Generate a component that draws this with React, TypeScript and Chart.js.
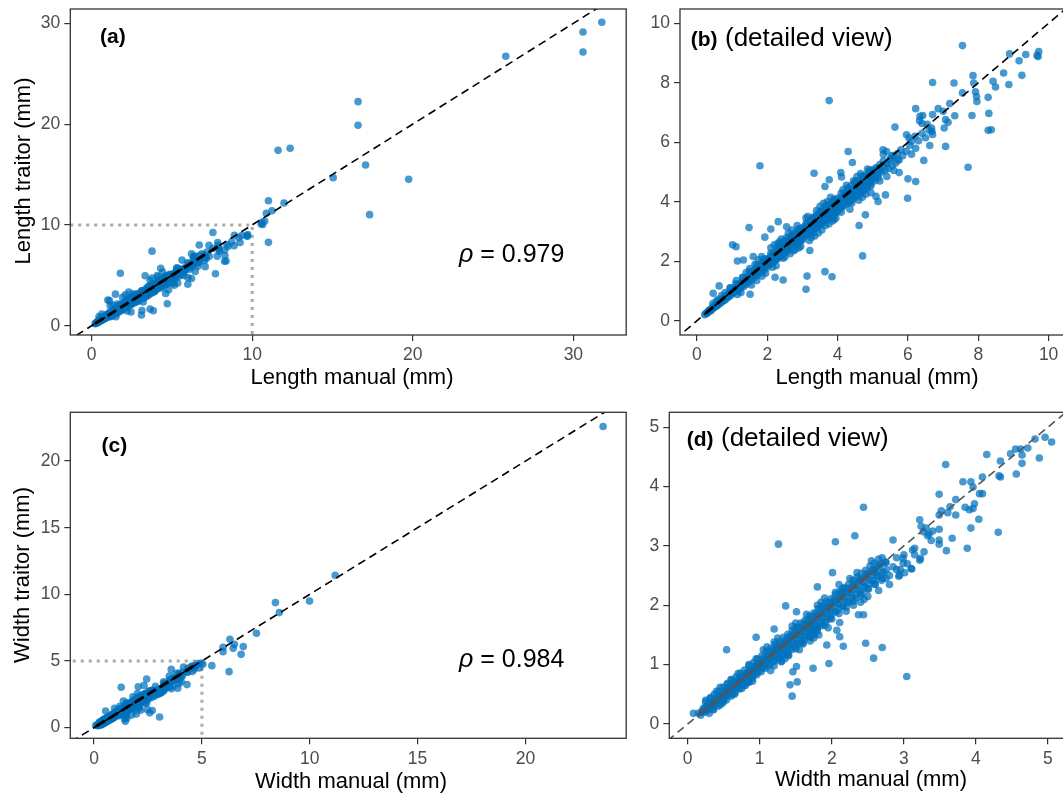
import React, { useEffect, useRef } from "react";
import { Chart, registerables } from "chart.js";

Chart.register(...registerables);

type Pt = [number, number];

// ---------- Length data (manual, traitor) in mm ----------
const lengthCore: Pt[] = [
  [0.3, 0.27], [0.35, 0.36], [0.4, 0.35], [0.45, 0.46], [0.5, 0.47], [0.55, 0.53], [0.6, 0.58], [0.65, 0.66],
  [0.7, 0.66], [0.75, 0.76], [0.8, 0.76], [0.85, 0.84], [0.9, 0.87], [0.95, 0.96], [1.0, 0.95], [1.05, 1.06],
  [1.1, 1.04], [1.15, 1.13], [1.2, 1.18], [1.25, 1.27], [1.3, 1.24], [1.35, 1.36], [1.4, 1.34], [1.45, 1.43],
  [1.5, 1.47], [1.55, 1.57], [1.6, 1.53], [1.65, 1.66], [1.7, 1.64], [1.75, 1.72], [1.8, 1.77], [1.85, 1.88],
  [1.9, 1.83], [1.95, 1.96], [2.0, 1.94], [2.05, 2.03], [2.1, 2.06], [2.15, 2.17], [2.2, 2.12], [2.25, 2.26],
  [2.3, 2.22], [2.35, 2.33], [2.4, 2.36], [2.45, 2.47], [2.5, 2.41], [2.55, 2.56], [2.6, 2.52], [2.65, 2.62],
  [2.7, 2.65], [2.75, 2.77], [2.8, 2.71], [2.85, 2.86], [2.9, 2.8], [2.95, 2.92], [3.0, 2.95], [3.05, 3.07],
  [3.1, 2.99], [3.15, 3.15], [3.2, 3.1], [3.25, 3.22], [3.3, 3.24], [3.35, 3.37], [3.4, 3.29], [3.45, 3.45],
  [3.5, 3.4], [3.55, 3.52], [3.6, 3.53], [3.65, 3.66], [3.7, 3.58], [3.75, 3.74], [3.8, 3.69], [3.85, 3.82],
  [3.9, 3.83], [3.95, 3.96], [4.0, 3.88], [4.05, 4.03], [4.1, 3.98], [4.15, 4.12], [4.2, 4.12], [4.25, 4.26],
  [4.3, 4.17], [4.35, 4.32], [4.4, 4.28], [4.45, 4.43], [4.5, 4.41], [4.55, 4.56], [4.6, 4.46], [4.65, 4.62],
  [4.7, 4.58], [4.75, 4.73], [4.8, 4.7], [4.85, 4.86], [4.9, 4.76], [4.95, 4.92], [5.0, 4.88], [5.05, 5.03],
  [5.1, 4.96], [5.15, 5.13], [5.2, 5.06], [5.3, 5.22], [5.4, 5.28], [5.5, 5.42],
  [2.05, 1.88], [2.15, 1.97], [2.25, 2.06], [2.35, 2.16], [2.45, 2.25], [2.55, 2.33], [2.65, 2.44], [2.75, 2.52],
  [2.85, 2.62], [2.95, 2.7], [3.05, 2.82], [3.15, 2.9], [3.25, 3.0], [3.35, 3.08], [3.45, 3.18], [3.55, 3.27],
  [3.65, 3.36], [3.75, 3.45], [3.85, 3.56], [3.95, 3.64], [4.05, 3.74], [4.15, 3.83], [4.25, 3.95], [4.35, 4.02],
  [4.45, 4.14], [4.55, 4.22], [4.65, 4.34], [4.75, 4.42], [4.85, 4.52], [4.95, 4.6], [5.05, 4.7], [5.15, 4.8],
  [1.1, 1.24], [1.3, 1.46], [1.5, 1.66], [1.7, 1.87], [1.9, 2.07], [2.1, 2.27], [2.3, 2.48], [2.5, 2.68],
  [2.7, 2.86], [2.9, 3.08], [3.1, 3.27], [3.3, 3.48], [3.5, 3.66], [3.7, 3.88], [3.9, 4.07], [4.1, 4.28],
  [4.3, 4.47], [4.5, 4.68], [4.7, 4.87], [4.9, 5.06],
];

const lengthClusterLow: Pt[] = [
  [0.22, 0.2], [0.25, 0.24], [0.28, 0.25], [0.3, 0.29], [0.33, 0.3], [0.35, 0.34], [0.38, 0.33], [0.4, 0.38],
  [0.42, 0.41], [0.45, 0.4], [0.47, 0.46], [0.5, 0.45], [0.52, 0.5], [0.55, 0.49], [0.57, 0.56], [0.6, 0.53],
  [0.62, 0.61], [0.65, 0.58], [0.67, 0.66], [0.7, 0.62], [0.72, 0.7], [0.75, 0.67], [0.77, 0.78], [0.8, 0.7],
  [0.82, 0.8], [0.85, 0.76], [0.87, 0.88], [0.9, 0.8], [0.92, 0.93], [0.95, 0.85], [0.97, 0.99], [1.0, 0.9],
  [0.45, 0.58], [0.6, 0.72], [0.7, 0.85], [0.8, 0.95], [0.95, 1.1], [0.55, 0.66],
  [1.02, 1.0], [1.05, 0.95], [1.08, 1.1], [1.1, 0.98], [1.12, 1.05], [1.15, 1.2], [1.18, 1.02], [1.2, 1.12],
  [1.22, 1.25], [1.25, 1.1], [1.28, 1.18], [1.3, 1.32], [1.33, 1.15], [1.35, 1.25], [1.38, 1.4], [1.4, 1.22],
  [1.43, 1.33], [1.45, 1.5], [1.48, 1.3], [1.5, 1.42], [1.52, 1.58], [1.55, 1.38], [1.58, 1.5], [1.6, 1.65],
  [1.62, 1.45], [1.65, 1.57], [1.68, 1.75], [1.7, 1.52], [1.72, 1.64], [1.75, 1.82], [1.78, 1.6], [1.8, 1.7],
  [1.82, 1.92], [1.85, 1.66], [1.88, 1.78], [1.9, 2.0], [1.92, 1.72], [1.95, 1.86], [1.98, 2.08], [2.0, 1.8],
  [1.12, 1.35], [1.25, 0.95], [1.4, 1.62], [1.55, 1.2], [1.65, 1.9], [1.85, 1.5], [1.3, 1.45], [1.75, 2.05],
  [1.95, 1.6], [1.15, 0.88], [1.5, 1.75], [1.7, 1.35],
];

const lengthClusterMid: Pt[] = [
  [2.02, 2.05], [2.05, 1.9], [2.08, 2.15], [2.1, 1.95], [2.12, 2.02], [2.15, 2.25], [2.18, 2.0], [2.2, 2.1],
  [2.22, 2.32], [2.25, 2.05], [2.28, 2.18], [2.3, 2.4], [2.33, 2.12], [2.35, 2.27], [2.38, 2.5], [2.4, 2.2],
  [2.43, 2.35], [2.45, 2.58], [2.48, 2.28], [2.5, 2.42], [2.52, 2.66], [2.55, 2.35], [2.58, 2.5], [2.6, 2.74],
  [2.62, 2.42], [2.65, 2.57], [2.68, 2.82], [2.7, 2.48], [2.72, 2.64], [2.75, 2.9], [2.78, 2.55], [2.8, 2.7],
  [2.82, 2.97], [2.85, 2.6], [2.88, 2.78], [2.9, 3.04], [2.92, 2.65], [2.95, 2.85], [2.98, 3.12], [3.0, 2.72],
  [2.1, 2.45], [2.25, 1.85], [2.35, 2.65], [2.5, 2.15], [2.6, 2.95], [2.75, 2.35], [2.85, 3.2], [2.95, 2.5],
  [2.2, 2.55], [2.45, 2.1], [2.65, 2.25], [2.4, 2.75], [2.7, 3.05], [2.55, 2.8], [2.9, 2.45], [2.15, 1.8],
  [2.3, 2.6], [2.8, 2.4],
  [3.02, 3.0], [3.05, 2.85], [3.08, 3.18], [3.1, 2.9], [3.12, 3.05], [3.15, 3.28], [3.18, 2.95], [3.2, 3.12],
  [3.22, 3.36], [3.25, 3.02], [3.28, 3.2], [3.3, 3.45], [3.33, 3.08], [3.35, 3.25], [3.38, 3.52], [3.4, 3.15],
  [3.43, 3.32], [3.45, 3.6], [3.48, 3.22], [3.5, 3.4], [3.52, 3.68], [3.55, 3.28], [3.58, 3.46], [3.6, 3.75],
  [3.62, 3.35], [3.65, 3.55], [3.68, 3.82], [3.7, 3.42], [3.72, 3.62], [3.75, 3.9], [3.78, 3.48], [3.8, 3.68],
  [3.82, 3.96], [3.85, 3.55], [3.88, 3.75], [3.9, 4.05], [3.92, 3.6], [3.95, 3.82], [3.98, 4.12], [4.0, 3.68],
  [3.1, 3.45], [3.25, 2.8], [3.4, 3.7], [3.55, 3.05], [3.7, 4.0], [3.85, 3.35], [3.2, 2.7], [3.5, 3.85],
  [3.65, 3.2], [3.95, 3.45], [3.3, 2.95], [3.75, 3.25], [3.45, 2.95], [3.6, 3.95], [3.9, 3.4], [3.15, 3.5],
  [3.8, 4.15], [3.35, 2.85],
];

const lengthClusterHigh: Pt[] = [
  [4.02, 4.0], [4.06, 3.8], [4.1, 4.15], [4.13, 3.85], [4.16, 4.02], [4.2, 4.3], [4.24, 3.92], [4.27, 4.1],
  [4.3, 4.42], [4.34, 4.0], [4.37, 4.2], [4.4, 4.55], [4.44, 4.08], [4.47, 4.3], [4.5, 4.62], [4.54, 4.18],
  [4.57, 4.4], [4.6, 4.72], [4.64, 4.25], [4.67, 4.48], [4.7, 4.82], [4.74, 4.35], [4.77, 4.58], [4.8, 4.9],
  [4.84, 4.45], [4.87, 4.68], [4.9, 5.0], [4.94, 4.52], [4.97, 4.75], [5.0, 5.08],
  [4.1, 3.65], [4.25, 4.55], [4.4, 3.95], [4.55, 4.85], [4.7, 4.15], [4.85, 5.1], [4.95, 4.3], [4.15, 4.4],
  [4.45, 4.7], [4.6, 4.05], [4.8, 4.25], [4.35, 3.75], [4.65, 4.95], [4.9, 4.65],
  [5.05, 4.8], [5.1, 5.15], [5.15, 4.9], [5.2, 5.25], [5.25, 5.0], [5.3, 5.38], [5.35, 5.05], [5.4, 5.3],
  [5.45, 5.12], [5.5, 5.45], [5.55, 5.2], [5.6, 5.55], [5.65, 5.3], [5.7, 5.62], [5.75, 5.4], [5.85, 5.55],
  [5.95, 5.7], [5.2, 4.7], [5.4, 4.85], [5.3, 5.6], [5.6, 5.05], [5.8, 5.75], [6.05, 5.9], [6.1, 5.6],
  [6.2, 6.2], [6.3, 6.05], [6.4, 6.3], [6.5, 6.15], [6.55, 6.6], [6.6, 6.4],
];

const lengthOutliers: Pt[] = [
  [7.55, 9.25], [3.76, 7.4], [1.79, 5.21], [7.71, 5.16], [8.89, 8.97], [9.16, 8.74], [9.35, 8.95], [9.67, 8.92],
  [9.72, 9.05], [9.7, 8.88], [9.24, 8.25], [8.87, 7.94], [8.72, 8.33], [8.42, 8.05], [8.49, 7.86], [8.28, 7.51],
  [8.3, 6.97], [8.28, 6.4], [8.37, 6.42], [7.85, 8.24], [7.87, 7.99], [7.92, 7.7], [7.95, 7.54], [7.96, 7.37],
  [7.82, 6.9], [7.55, 7.66], [7.31, 7.99], [6.7, 8.01], [7.19, 7.3], [7.33, 6.89], [7.07, 6.76], [7.14, 6.67],
  [6.86, 7.13], [7.0, 7.04], [7.03, 6.48], [7.07, 5.86], [6.7, 6.93], [6.67, 6.48], [6.68, 6.37], [6.7, 6.26],
  [6.62, 5.89], [6.45, 5.39], [6.22, 7.13], [6.34, 6.87], [6.42, 6.9], [6.33, 6.72], [6.4, 6.63], [6.22, 5.8],
  [6.22, 4.68], [6.0, 4.77], [5.99, 4.12], [5.96, 6.25], [6.03, 6.14], [6.1, 6.03], [5.63, 6.51], [5.75, 4.98],
  [5.7, 5.4], [5.55, 5.55], [5.29, 5.75], [5.39, 5.69], [5.36, 4.23], [5.09, 4.18], [5.15, 4.01], [4.79, 3.56],
  [4.61, 3.2], [4.71, 2.18], [4.3, 5.69], [4.42, 5.32], [4.09, 4.98], [4.11, 4.83], [3.76, 4.74], [3.64, 4.51],
  [3.33, 4.96], [3.49, 3.56], [3.64, 1.65], [3.84, 1.48], [3.13, 1.5], [3.1, 1.06], [3.21, 2.36], [2.45, 1.37],
  [2.22, 1.46], [2.31, 3.33], [2.1, 3.08], [2.55, 3.16], [1.93, 2.81], [1.48, 3.13], [1.11, 2.49], [1.15, 2.01],
  [1.32, 2.04], [1.01, 2.55], [1.51, 0.89], [0.46, 0.92], [0.63, 1.17], [0.94, 1.11], [1.6, 2.16], [1.84, 2.16],
];

const lengthLarge: Pt[] = [
  [31.77, 30.1], [30.6, 29.14], [30.6, 27.16], [25.79, 26.73], [16.59, 22.23], [16.59, 19.88], [11.61, 17.4],
  [12.36, 17.6], [17.06, 15.94], [15.04, 14.69], [19.74, 14.52], [17.31, 11.02], [11.01, 12.4], [11.98, 12.17],
  [11.23, 11.41], [10.88, 11.15], [10.78, 10.39], [11.01, 8.27], [10.55, 10.09], [10.6, 10.25], [10.65, 10.05],
];

// ---------- Width data (manual, traitor) in mm ----------
const widthCore: Pt[] = [
  [0.2, 0.2], [0.23, 0.25], [0.26, 0.24], [0.29, 0.31], [0.32, 0.3], [0.35, 0.37], [0.38, 0.36], [0.41, 0.43],
  [0.44, 0.42], [0.47, 0.49], [0.5, 0.48], [0.53, 0.55], [0.56, 0.54], [0.59, 0.61], [0.62, 0.6], [0.65, 0.67],
  [0.68, 0.65], [0.71, 0.73], [0.74, 0.72], [0.77, 0.79], [0.8, 0.77], [0.83, 0.86], [0.86, 0.84], [0.89, 0.91],
  [0.92, 0.89], [0.95, 0.97], [0.98, 0.96], [1.01, 1.03], [1.04, 1.01], [1.07, 1.09], [1.1, 1.08], [1.13, 1.15],
  [1.16, 1.13], [1.19, 1.22], [1.22, 1.19], [1.25, 1.27], [1.28, 1.26], [1.31, 1.33], [1.34, 1.31], [1.37, 1.39],
  [1.4, 1.38], [1.43, 1.46], [1.46, 1.43], [1.49, 1.51], [1.52, 1.5], [1.55, 1.58], [1.58, 1.55], [1.61, 1.63],
  [1.64, 1.62], [1.67, 1.7], [1.7, 1.67], [1.73, 1.75], [1.76, 1.74], [1.79, 1.82], [1.82, 1.79], [1.85, 1.87],
  [1.88, 1.86], [1.91, 1.94], [1.94, 1.91], [1.97, 1.99], [2.0, 1.98], [2.03, 2.06], [2.06, 2.03], [2.09, 2.11],
  [2.12, 2.1], [2.15, 2.18], [2.18, 2.15], [2.21, 2.23], [2.24, 2.22], [2.27, 2.3], [2.3, 2.27], [2.33, 2.35],
  [2.36, 2.34], [2.39, 2.42], [2.42, 2.39], [2.45, 2.47], [2.48, 2.46], [2.51, 2.54], [2.54, 2.51], [2.57, 2.59],
  [2.6, 2.58], [2.63, 2.66], [2.66, 2.63], [2.7, 2.71], [2.75, 2.73],
  [0.3, 0.18], [0.36, 0.24], [0.42, 0.3], [0.48, 0.35], [0.54, 0.41], [0.6, 0.47], [0.66, 0.53], [0.72, 0.59],
  [0.78, 0.65], [0.84, 0.71], [0.9, 0.77], [0.96, 0.83], [1.02, 0.88], [1.08, 0.94], [1.14, 1.0], [1.2, 1.06],
  [1.26, 1.12], [1.32, 1.18], [1.38, 1.24], [1.44, 1.29], [1.5, 1.35], [1.56, 1.41], [1.62, 1.47], [1.68, 1.53],
  [1.74, 1.59], [1.8, 1.64], [1.86, 1.7], [1.92, 1.76], [1.98, 1.82], [2.04, 1.88], [2.1, 1.94], [2.16, 2.0],
  [2.22, 2.06], [2.28, 2.12], [2.34, 2.18], [2.4, 2.24], [2.46, 2.3], [2.52, 2.36], [2.58, 2.42], [2.64, 2.48],
  [2.7, 2.54], [2.76, 2.6],
  [0.25, 0.37], [0.31, 0.43], [0.37, 0.5], [0.43, 0.55], [0.49, 0.62], [0.55, 0.67], [0.61, 0.74], [0.67, 0.79],
  [0.73, 0.86], [0.79, 0.91], [0.85, 0.98], [0.91, 1.03], [0.97, 1.1], [1.03, 1.15], [1.09, 1.22], [1.15, 1.27],
  [1.21, 1.34], [1.27, 1.39], [1.33, 1.46], [1.39, 1.51], [1.45, 1.58], [1.51, 1.63], [1.57, 1.7], [1.63, 1.75],
  [1.69, 1.82], [1.75, 1.87], [1.81, 1.94], [1.87, 1.99], [1.93, 2.06], [1.99, 2.11], [2.05, 2.18], [2.11, 2.23],
  [2.17, 2.3], [2.23, 2.35], [2.29, 2.42], [2.35, 2.47], [2.41, 2.54], [2.47, 2.59], [2.53, 2.66], [2.59, 2.71],
  [2.65, 2.78],
  [1.2, 0.98], [1.3, 1.06], [1.4, 1.17], [1.5, 1.27], [1.6, 1.37], [1.7, 1.46], [1.8, 1.57], [1.9, 1.66],
  [2.0, 1.77], [2.1, 1.86], [2.2, 1.97], [2.3, 2.07], [2.4, 2.16], [2.5, 2.27], [2.6, 2.36], [2.7, 2.45],
];

const widthClusterLow: Pt[] = [
  [0.15, 0.18], [0.18, 0.15], [0.2, 0.22], [0.22, 0.27], [0.24, 0.2], [0.26, 0.3], [0.28, 0.24], [0.3, 0.34],
  [0.32, 0.28], [0.34, 0.38], [0.36, 0.31], [0.38, 0.42], [0.4, 0.35], [0.42, 0.46], [0.44, 0.38], [0.46, 0.5],
  [0.48, 0.42], [0.5, 0.55], [0.52, 0.45], [0.54, 0.58], [0.56, 0.49], [0.58, 0.62], [0.6, 0.53], [0.62, 0.66],
  [0.64, 0.57], [0.66, 0.7], [0.68, 0.6], [0.7, 0.74], [0.72, 0.64], [0.74, 0.78], [0.76, 0.68], [0.78, 0.82],
  [0.8, 0.72], [0.82, 0.86], [0.84, 0.76], [0.86, 0.9], [0.88, 0.79], [0.9, 0.94], [0.92, 0.83], [0.94, 0.98],
  [0.96, 0.87], [0.98, 1.02], [1.0, 0.9],
  [0.25, 0.4], [0.35, 0.25], [0.4, 0.55], [0.5, 0.38], [0.55, 0.68], [0.62, 0.5], [0.7, 0.85], [0.75, 0.6],
  [0.85, 1.0], [0.9, 0.72], [0.32, 0.45], [0.45, 0.32], [0.6, 0.75], [0.8, 0.65], [0.95, 1.1], [0.45, 0.62],
  [0.65, 0.5], [0.85, 0.7],
];

const widthClusterMid: Pt[] = [
  [1.02, 1.05], [1.04, 0.95], [1.06, 1.12], [1.08, 0.98], [1.1, 1.08], [1.12, 1.18], [1.14, 1.02], [1.16, 1.12],
  [1.18, 1.24], [1.2, 1.06], [1.22, 1.16], [1.24, 1.3], [1.26, 1.1], [1.28, 1.22], [1.3, 1.36], [1.32, 1.15],
  [1.34, 1.27], [1.36, 1.42], [1.38, 1.2], [1.4, 1.32], [1.42, 1.48], [1.44, 1.25], [1.46, 1.37], [1.48, 1.55],
  [1.5, 1.3], [1.52, 1.43], [1.54, 1.62], [1.56, 1.36], [1.58, 1.5], [1.6, 1.68], [1.62, 1.42], [1.64, 1.56],
  [1.66, 1.74], [1.68, 1.48], [1.7, 1.62], [1.72, 1.8], [1.74, 1.54], [1.76, 1.68], [1.78, 1.86], [1.8, 1.6],
  [1.82, 1.74], [1.84, 1.92], [1.86, 1.66], [1.88, 1.8], [1.9, 1.98], [1.92, 1.72], [1.94, 1.86], [1.96, 2.04],
  [1.98, 1.78], [2.0, 1.92],
  [1.05, 1.25], [1.15, 0.9], [1.25, 1.45], [1.35, 1.1], [1.45, 1.65], [1.55, 1.25], [1.65, 1.85], [1.75, 1.45],
  [1.85, 2.05], [1.95, 1.62], [1.1, 1.3], [1.3, 1.05], [1.5, 1.7], [1.7, 1.4], [1.9, 2.12], [1.2, 1.38],
  [1.4, 1.15], [1.6, 1.35], [1.8, 2.0], [1.72, 1.55], [1.78, 1.62], [1.82, 1.5], [1.68, 1.6], [1.76, 1.5],
];

const widthClusterHigh: Pt[] = [
  [2.03, 2.1], [2.06, 1.9], [2.09, 2.02], [2.12, 2.2], [2.15, 1.98], [2.18, 2.1], [2.21, 2.28], [2.24, 2.05],
  [2.27, 2.18], [2.3, 2.36], [2.33, 2.12], [2.36, 2.26], [2.39, 2.44], [2.42, 2.2], [2.45, 2.34], [2.48, 2.52],
  [2.51, 2.28], [2.54, 2.42], [2.57, 2.6], [2.6, 2.35], [2.63, 2.5], [2.66, 2.68], [2.69, 2.42], [2.72, 2.56],
  [2.75, 2.72], [2.8, 2.5], [2.85, 2.65], [2.9, 2.8], [2.95, 2.6], [3.0, 2.85],
  [2.1, 2.35], [2.2, 1.9], [2.35, 2.55], [2.45, 2.1], [2.55, 2.75], [2.65, 2.25], [2.7, 2.8], [2.8, 2.35],
  [2.25, 2.45], [2.4, 2.05], [2.6, 2.55], [2.5, 2.15], [2.15, 2.28], [2.75, 2.45], [2.05, 2.22], [2.3, 2.0],
  [2.94, 2.51], [3.1, 2.62], [3.23, 2.79], [3.05, 2.7], [2.9, 2.6], [3.15, 2.85], [3.28, 2.9], [3.35, 3.2],
  [3.4, 3.25],
];

const widthOutliers: Pt[] = [
  [4.88, 4.48], [4.82, 4.8], [4.72, 4.65], [4.64, 4.53], [4.64, 4.39], [4.55, 4.63], [4.62, 4.63], [4.56, 4.21],
  [4.48, 4.55], [4.34, 4.43], [4.32, 4.18], [4.34, 4.16], [4.15, 4.54], [4.09, 4.16], [4.31, 3.23], [4.04, 3.45],
  [4.09, 3.88], [4.05, 3.88], [3.96, 3.99], [3.93, 4.08], [3.82, 4.08], [3.98, 3.71], [3.96, 3.63], [3.91, 3.61],
  [3.85, 3.65], [3.93, 3.3], [3.88, 2.96], [3.72, 3.78], [3.64, 3.66], [3.61, 3.56], [3.72, 3.52], [3.58, 4.37],
  [3.49, 3.87], [3.52, 3.59], [3.49, 3.52], [3.67, 3.13], [3.59, 2.92], [3.49, 3.28], [3.49, 3.1], [3.49, 3.03],
  [3.38, 3.09], [3.33, 3.17], [3.22, 3.44], [3.24, 3.33], [3.27, 3.24], [3.31, 3.3], [3.22, 2.76], [3.12, 2.93],
  [3.15, 2.96], [3.11, 2.61], [3.01, 2.55], [2.93, 2.49], [2.99, 2.71], [2.99, 2.79], [3.04, 0.8], [2.85, 3.1],
  [2.7, 1.29], [2.58, 1.11], [2.47, 1.36], [2.44, 3.65], [2.32, 3.17], [2.05, 3.07], [1.96, 1.02], [1.74, 0.94],
  [1.26, 3.03], [2.16, 1.31], [2.11, 1.47], [1.93, 1.33], [2.01, 2.55], [1.8, 2.31], [1.51, 0.97], [1.46, 0.88],
  [1.52, 0.71], [1.42, 0.66], [1.45, 0.47], [0.54, 1.25], [0.95, 1.46], [1.2, 1.6], [1.36, 1.99], [1.51, 1.89],
  [2.11, 1.71], [2.07, 1.58], [2.44, 1.84], [2.37, 1.84], [0.08, 0.18],
];

const widthLarge: Pt[] = [
  [23.6, 22.6], [11.18, 11.43], [8.41, 9.38], [9.99, 9.5], [8.59, 8.63], [7.53, 7.08], [6.92, 6.08], [6.82, 5.5],
  [6.3, 6.63], [6.51, 6.25], [5.98, 6.03], [6.45, 5.95], [5.98, 5.7], [6.26, 4.2], [5.46, 4.65], [4.96, 4.83],
  [5.05, 4.75],
];

// ---------- Tick labels ----------
const ticksLengthFull = [0, 10, 20, 30];
const ticksLengthDetail = [0, 2, 4, 6, 8, 10];
const ticksWidthFull = [0, 5, 10, 15, 20];
const ticksWidthDetail = [0, 1, 2, 3, 4, 5];

const rhoLength = "0.979";
const rhoWidth = "0.984";

const lengthData: Pt[] = [
  ...lengthCore, ...lengthClusterLow, ...lengthClusterMid, ...lengthClusterHigh, ...lengthOutliers, ...lengthLarge,
];
const widthData: Pt[] = [
  ...widthCore, ...widthClusterLow, ...widthClusterMid, ...widthClusterHigh, ...widthOutliers, ...widthLarge,
];

const FONT = '"Liberation Sans", Arial, Helvetica, sans-serif';
const POINT_COLOR = "rgba(0,114,189,0.72)";

interface PanelSpec {
  left: number; top: number; width: number; height: number;
  area: { l: number; t: number; r: number; b: number };
  xMin: number; xMax: number; yMin: number; yMax: number;
  xTicks: number[]; yTicks: number[];
  data: Pt[];
  dashColor: string;
  thick: [number, number];
  guide?: number;
  label: string; labelPos: [number, number];
  extra?: string; extraPos?: [number, number];
  rho?: string; rhoPos?: [number, number];
  xTitle: string; xTitlePos: [number, number];
  yTitle?: string; yTitlePos?: [number, number];
}

const panels: PanelSpec[] = [
  {
    left: 0, top: 0, width: 630, height: 400,
    area: { l: 70.3, t: 9, r: 626.2, b: 335 },
    xMin: -1.33, xMax: 33.29, yMin: -0.92, yMax: 31.42,
    xTicks: ticksLengthFull, yTicks: ticksLengthFull,
    data: lengthData, dashColor: "#000", thick: [0.2, 8], guide: 10,
    label: "(a)", labelPos: [100, 37.5],
    rho: rhoLength, rhoPos: [459, 262],
    xTitle: "Length manual (mm)", xTitlePos: [352, 378],
    yTitle: "Length traitor (mm)", yTitlePos: [24, 171],
  },
  {
    left: 630, top: 0, width: 440, height: 400,
    area: { l: 50, t: 9, r: 436.6, b: 335 },
    xMin: -0.483, xMax: 10.5, yMin: -0.48, yMax: 10.48,
    xTicks: ticksLengthDetail, yTicks: ticksLengthDetail,
    data: lengthData, dashColor: "#000", thick: [0.25, 5.3],
    label: "(b)", labelPos: [60.7, 40],
    extra: "(detailed view)", extraPos: [95, 39],
    xTitle: "Length manual (mm)", xTitlePos: [247, 378],
  },
  {
    left: 0, top: 400, width: 630, height: 394,
    area: { l: 70.3, t: 12.3, r: 626.2, b: 338.3 },
    xMin: -1.1, xMax: 24.67, yMin: -0.8, yMax: 23.66,
    xTicks: ticksWidthFull, yTicks: ticksWidthFull,
    data: widthData, dashColor: "#000", thick: [0.1, 4.6], guide: 5,
    label: "(c)", labelPos: [101.6, 46],
    rho: rhoWidth, rhoPos: [459, 266.7],
    xTitle: "Width manual (mm)", xTitlePos: [351, 382],
    yTitle: "Width traitor (mm)", yTitlePos: [23, 175],
  },
  {
    left: 630, top: 400, width: 440, height: 394,
    area: { l: 39.3, t: 12.3, r: 436, b: 338.3 },
    xMin: -0.255, xMax: 5.25, yMin: -0.24, yMax: 5.25,
    xTicks: ticksWidthDetail, yTicks: ticksWidthDetail,
    data: widthData, dashColor: "#555", thick: [0.15, 2.6],
    label: "(d)", labelPos: [56.7, 40],
    extra: "(detailed view)", extraPos: [91, 39],
    xTitle: "Width manual (mm)", xTitlePos: [241, 380],
  },
];

function Panel({ spec }: { spec: PanelSpec }) {
  const ref = useRef<HTMLCanvasElement>(null);
  useEffect(() => {
    const s = spec;
    const canvas = ref.current;
    if (!canvas) return;

    const decor = {
      id: "decor" + s.label,
      afterDatasetsDraw(chart: any) {
        const { ctx, chartArea: a } = chart;
        ctx.save();
        ctx.strokeStyle = "#333";
        ctx.lineWidth = 1.3;
        ctx.strokeRect(a.left, a.top, a.right - a.left, a.bottom - a.top);
        ctx.restore();
      },
      afterDraw(chart: any) {
        const ctx: CanvasRenderingContext2D = chart.ctx;
        ctx.save();
        ctx.fillStyle = "#000";
        ctx.textBaseline = "middle";
        ctx.textAlign = "left";
        ctx.font = `bold 21px ${FONT}`;
        ctx.fillText(s.label, s.labelPos[0], s.labelPos[1]);
        if (s.extra && s.extraPos) {
          ctx.font = `26px ${FONT}`;
          ctx.fillText(s.extra, s.extraPos[0], s.extraPos[1]);
        }
        if (s.rho && s.rhoPos) {
          ctx.textBaseline = "alphabetic";
          ctx.font = `italic 25px ${FONT}`;
          ctx.fillText("ρ", s.rhoPos[0], s.rhoPos[1]);
          const w = ctx.measureText("ρ").width;
          ctx.font = `25px ${FONT}`;
          ctx.fillText(" = " + s.rho, s.rhoPos[0] + w, s.rhoPos[1]);
        }
        ctx.textBaseline = "middle";
        ctx.textAlign = "center";
        ctx.font = `22px ${FONT}`;
        ctx.fillText(s.xTitle, s.xTitlePos[0], s.xTitlePos[1]);
        if (s.yTitle && s.yTitlePos) {
          ctx.translate(s.yTitlePos[0], s.yTitlePos[1]);
          ctx.rotate(-Math.PI / 2);
          ctx.fillText(s.yTitle, 0, 0);
        }
        ctx.restore();
      },
    };

    const axisCommon = (ticks: number[]) => ({
      type: "linear" as const,
      afterBuildTicks: (scale: any) => {
        scale.ticks = ticks.map((v) => ({ value: v }));
      },
      grid: { drawOnChartArea: false, drawTicks: true, tickLength: 6, color: "#333", lineWidth: 1.2 },
      border: { display: false },
      ticks: {
        font: { family: FONT, size: 17.5 },
        color: "#4D4D4D",
        padding: 4,
        autoSkip: false,
        maxRotation: 0,
        callback: (v: any) => String(v),
      },
    });

    const lo = Math.min(s.xMin, s.yMin) - 1;
    const hi = Math.max(s.xMax, s.yMax) + 1;

    const datasets: any[] = [
      {
        type: "line",
        data: [{ x: lo, y: lo }, { x: hi, y: hi }],
        borderColor: s.dashColor, borderWidth: 1.6, borderDash: [8, 5],
        pointRadius: 0, showLine: true, fill: false, order: 0, clip: 0,
      },
      {
        type: "line",
        data: [{ x: s.thick[0], y: s.thick[0] }, { x: s.thick[1], y: s.thick[1] }],
        borderColor: s.dashColor, borderWidth: 3, borderDash: [10, 5],
        pointRadius: 0, showLine: true, fill: false, order: 0, clip: 0,
      },
      {
        type: "scatter",
        data: s.data.map(([x, y]) => ({ x, y })),
        backgroundColor: POINT_COLOR,
        borderWidth: 0,
        pointRadius: 3.8,
        pointHoverRadius: 3.8,
        order: 1, clip: 0,
      },
    ];
    if (s.guide !== undefined) {
      const g = s.guide;
      datasets.push({
        type: "line",
        data: [{ x: lo, y: g }, { x: g, y: g }, { x: g, y: lo }],
        borderColor: "#AAAAAA", borderWidth: 3, borderDash: [3, 5],
        pointRadius: 0, showLine: true, fill: false, order: 2, clip: 0,
      });
    }

    const chart = new Chart(canvas, {
      type: "scatter",
      data: { datasets },
      options: {
        responsive: false,
        animation: false,
        devicePixelRatio: 1,
        events: [],
        layout: { padding: { left: 0, top: s.area.t, right: s.width - s.area.r, bottom: 0 } },
        plugins: { legend: { display: false }, tooltip: { enabled: false } },
        scales: {
          x: {
            ...axisCommon(s.xTicks),
            position: "bottom",
            min: s.xMin, max: s.xMax,
            afterFit: (scale: any) => {
              scale.height = s.height - s.area.b;
              scale.paddingLeft = 0; scale.paddingRight = 0; scale.paddingTop = 0; scale.paddingBottom = 0;
            },
          },
          y: {
            ...axisCommon(s.yTicks),
            position: "left",
            min: s.yMin, max: s.yMax,
            afterFit: (scale: any) => {
              scale.width = s.area.l;
              scale.paddingLeft = 0; scale.paddingRight = 0; scale.paddingTop = 0; scale.paddingBottom = 0;
            },
          },
        },
      } as any,
      plugins: [decor],
    });
    return () => chart.destroy();
  }, [spec]);

  return (
    <canvas
      ref={ref}
      width={spec.width}
      height={spec.height}
      style={{ position: "absolute", left: spec.left, top: spec.top, width: spec.width, height: spec.height }}
    />
  );
}

export default function App() {
  return (
    <div
      style={{
        position: "fixed", left: 0, top: 0, width: 1063, height: 794,
        overflow: "hidden", background: "#fff",
      }}
    >
      {panels.map((p) => (
        <Panel key={p.label} spec={p} />
      ))}
    </div>
  );
}
